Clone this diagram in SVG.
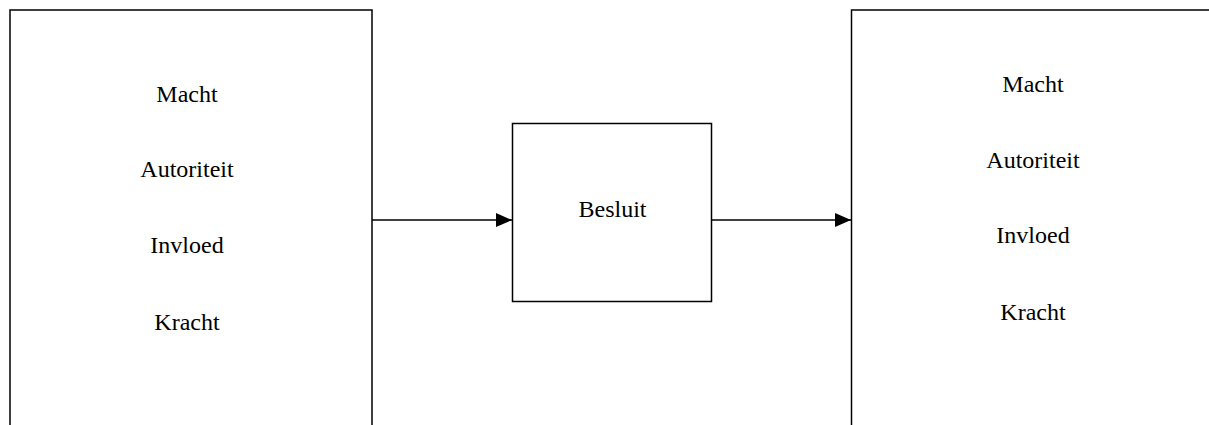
<svg xmlns="http://www.w3.org/2000/svg" width="1209" height="425" viewBox="0 0 1209 425">
<style>
.box{fill:#fff;stroke:#000;stroke-width:1.5}
.t{font-family:"Liberation Serif","Times New Roman",serif;font-size:24px;fill:#000;text-anchor:middle}
.c{stroke:#000;stroke-width:1.5;fill:none}
</style>
<defs>
<marker id="ah" markerUnits="userSpaceOnUse" markerWidth="16" markerHeight="14" refX="16" refY="7" orient="auto">
<path d="M0,0 L16,7 L0,14 Z" fill="#000"/>
</marker>
</defs>
<rect width="1209" height="425" fill="#fff"/>
<g id="left">
<rect class="box" x="10" y="10" width="362" height="430"/>
<text class="t" x="187" y="102">Macht</text>
<text class="t" x="187" y="177">Autoriteit</text>
<text class="t" x="187" y="253">Invloed</text>
<text class="t" x="187" y="330">Kracht</text>
</g>
<g id="middle">
<rect class="box" x="512.5" y="123.5" width="199" height="178"/>
<text class="t" x="612.5" y="217">Besluit</text>
</g>
<g id="right">
<rect class="box" x="851.5" y="10" width="380" height="430"/>
<text class="t" x="1033" y="92">Macht</text>
<text class="t" x="1033" y="168">Autoriteit</text>
<text class="t" x="1033" y="243">Invloed</text>
<text class="t" x="1033" y="320">Kracht</text>
</g>
<g id="connectors">
<line class="c" x1="372" y1="220" x2="512" y2="220" marker-end="url(#ah)"/>
<line class="c" x1="711.5" y1="220" x2="851" y2="220" marker-end="url(#ah)"/>
</g>
</svg>
